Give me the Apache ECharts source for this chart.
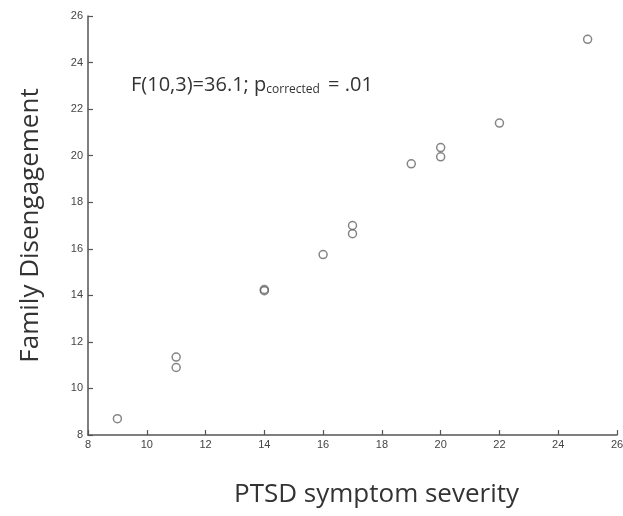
<!DOCTYPE html>
<html><head><meta charset="utf-8">
<script src="https://cdn.jsdelivr.net/npm/echarts@6/dist/echarts.min.js"></script>
<style>html,body{margin:0;padding:0;background:#fff}#c{width:623px;height:516px}</style>
</head><body><div id="c"></div>
<script>
const ptsd = [9, 11, 11, 14, 14, 16, 17, 17, 19, 20, 20, 22, 25];
const disengagement = [8.7, 11.35, 10.9, 14.2, 14.25, 15.75, 17.0, 16.65, 19.65, 20.35, 19.95, 21.4, 25.0];
const xTicks = [8, 10, 12, 14, 16, 18, 20, 22, 24, 26];
const yTicks = [8, 10, 12, 14, 16, 18, 20, 22, 24, 26];
const statText = ['F(10,3)=36.1; p', 'corrected', ' = .01'];

const chart = echarts.init(document.getElementById('c'));
const axisCommon = {
  min: 8, max: 26, interval: 2,
  axisLine: {show: true, lineStyle: {color: '#555', width: 1.5}},
  axisTick: {show: true, inside: true, length: 5, lineStyle: {color: '#555', width: 1.2}},
  splitLine: {show: false},
  axisLabel: {color: '#444', fontSize: 11, fontFamily: 'Liberation Sans Narrow, Liberation Sans, sans-serif'}
};
chart.setOption({
  animation: false,
  grid: {left: 88, right: 6, top: 16, bottom: 81, containLabel: false, outerBoundsMode: 'none'},
  xAxis: Object.assign({}, axisCommon, {
    type: 'value',
    name: 'PTSD symptom severity',
    nameLocation: 'middle', nameGap: 47,
    nameTextStyle: {fontSize: 26, color: '#333', fontFamily: 'Open Sans, sans-serif', padding: [0, 0, 0, 48]},
    axisLabel: Object.assign({}, axisCommon.axisLabel, {margin: 4, formatter: v => xTicks.includes(v) ? String(v) : ''})
  }),
  yAxis: Object.assign({}, axisCommon, {
    type: 'value',
    name: 'Family Disengagement',
    nameLocation: 'middle', nameGap: 44,
    nameTextStyle: {fontSize: 26, color: '#333', fontFamily: 'Open Sans, sans-serif'},
    axisLabel: Object.assign({}, axisCommon.axisLabel, {margin: 5, formatter: v => yTicks.includes(v) ? String(v) : ''})
  }),
  series: [{
    type: 'scatter',
    data: ptsd.map((x, i) => [x, disengagement[i]]),
    symbol: 'circle', symbolSize: 8,
    itemStyle: {color: 'rgba(255,255,255,0)', borderColor: '#666', borderWidth: 1.5}
  }],
  graphic: [{
    type: 'text', left: 131, top: 75,
    style: {
      text: '{a|' + statText[0] + '}{b|' + statText[1] + '}{a|' + statText[2] + '}',
      rich: {
        a: {fontSize: 20, fill: '#333', fontFamily: 'Open Sans, sans-serif'},
        b: {fontSize: 12, fill: '#333', fontFamily: 'Open Sans, sans-serif', padding: [10, 3, 0, 0]}
      }
    }
  }]
});
</script></body></html>
